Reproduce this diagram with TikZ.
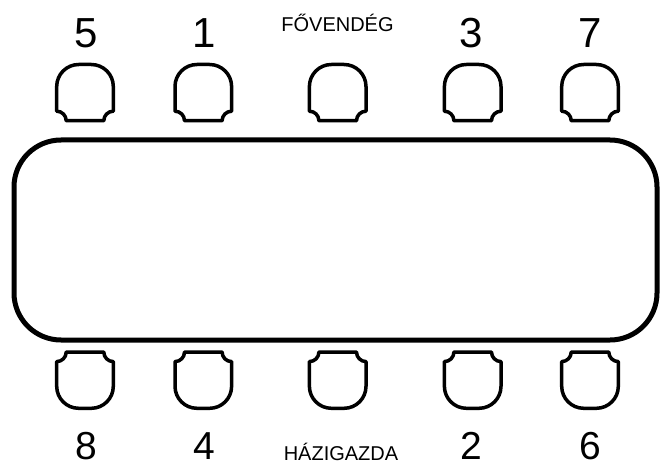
\documentclass[tikz,border=0pt]{standalone}
\usepackage{fontspec}
\setmainfont{Liberation Sans}
\begin{document}
\begin{tikzpicture}[x=1pt,y=1pt,
  tablebox/.style={line width=5pt, rounded corners=47pt},
  seatno/.style={font=\fontsize{42}{42}\selectfont, anchor=base, inner sep=0pt},
  seatnolow/.style={font=\fontsize{39}{39}\selectfont, anchor=base, inner sep=0pt},
  rolelabel/.style={font=\fontsize{20}{20}\selectfont, anchor=base, inner sep=0pt},
  chair/.pic={
    % rounded back, straight sides, scalloped front corners
    \def\w{28.3}\def\h{28.1}\def\r{22}\def\n{9.5}\def\k{0.552}
    \draw[line width=3.5pt, line join=round]
      (-\w,-\h+\n) -- (-\w,\h-\r)
      .. controls (-\w,\h-\r+\k*\r) and (-\w+\r-\k*\r,\h) .. (-\w+\r,\h)
      -- (\w-\r,\h)
      .. controls (\w-\r+\k*\r,\h) and (\w,\h-\r+\k*\r) .. (\w,\h-\r)
      -- (\w,-\h+\n)
      .. controls (\w-\k*\n,-\h+\n) and (\w-\n,-\h+\k*\n) .. (\w-\n,-\h)
      -- (-\w+\n,-\h)
      .. controls (-\w+\n,-\h+\k*\n) and (-\w+\k*\n,-\h+\n) .. cycle;
  }]
\useasboundingbox (0,0) rectangle (660,464);

% table
\draw[tablebox] (14,124) rectangle (657,324);

% chairs along the far side
\pic at (85,371.4) {chair};
\pic at (203.3,371.4) {chair};
\pic at (337.7,371.4) {chair};
\pic at (472.7,371.4) {chair};
\pic at (590,371.4) {chair};

% chairs along the near side
\pic[yscale=-1] at (85,83.8) {chair};
\pic[yscale=-1] at (203.3,83.8) {chair};
\pic[yscale=-1] at (337.7,83.8) {chair};
\pic[yscale=-1] at (472.7,83.8) {chair};
\pic[yscale=-1] at (590,83.8) {chair};

% seat numbers
\node[seatno] (n5) at (86,416) {5};
\node[seatno] (n1) at (204,416) {1};
\node[seatno] (n3) at (471,416) {3};
\node[seatno] (n7) at (590,416) {7};
\node[rolelabel] (guest) at (337.5,432) {FŐVENDÉG};

\node[seatnolow] (n8) at (86,5) {8};
\node[seatnolow] (n4) at (204,5) {4};
\node[seatnolow] (n2) at (471,5) {2};
\node[seatnolow] (n6) at (590,5) {6};
\node[rolelabel] (host) at (341,4) {HÁZIGAZDA};
\end{tikzpicture}
\end{document}
